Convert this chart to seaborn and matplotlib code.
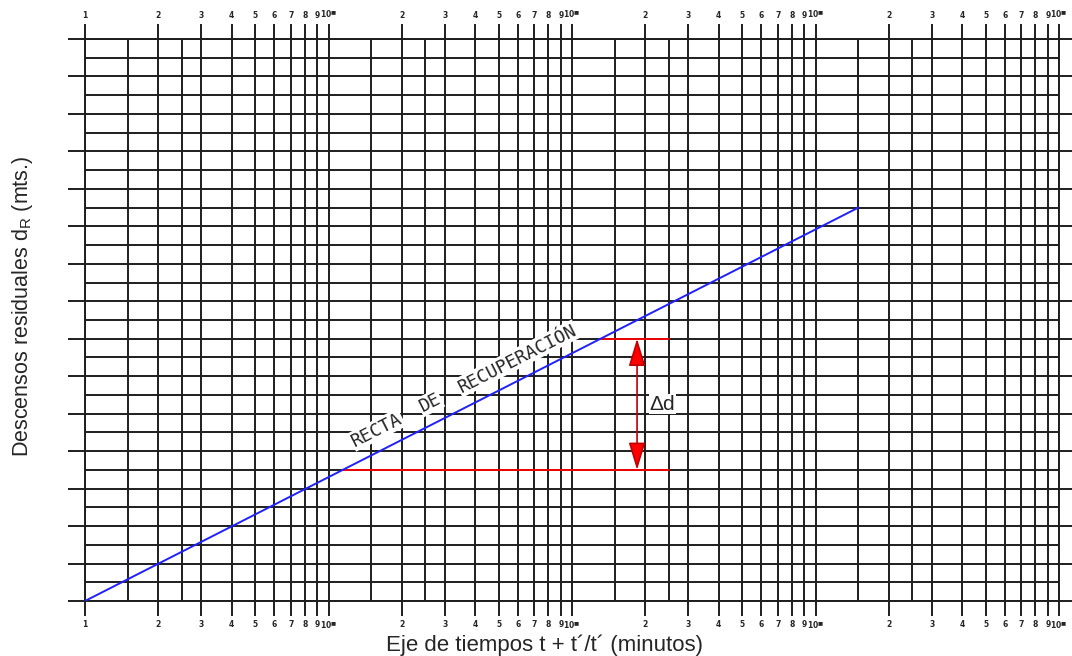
import numpy as np
import pandas as pd
import matplotlib
matplotlib.use("Agg")
import matplotlib.pyplot as plt
from matplotlib.patches import ArrowStyle
import seaborn as sns

# --- data -------------------------------------------------------------
# recovery line: residual drawdown (grid rows) vs. t + t'/t' (minutes)
line_t = [1, 1500]
line_d = [0, 21]
# levels used to read the drawdown difference over one log cycle
delta_low = 7
delta_high = 14
delta_end_t = 250
arrow_t = 185
# axis ranges
x_min, x_max = 1, 10000
y_min, y_max = 0, 30
decade_digits = [1, 2, 3, 4, 5, 6, 7, 8, 9]
minor_steps = [1.5, 2.5]

GRID = "#1e1e1e"

sns.set_style("white")
plt.rcParams["font.family"] = ["Liberation Sans", "DejaVu Sans"]

fig = plt.figure(figsize=(10.72, 6.56), dpi=100)
W, H = 1072, 656
ax = fig.add_axes([85 / W, 1 - 601 / H, (1059 - 85) / W, (601 - 39) / H])

ax.set_xscale("log")
ax.set_xlim(x_min, x_max)
ax.set_ylim(y_min, y_max)

# log paper grid
decades = [1, 10, 100, 1000]
major_x = [d * k for d in decades for k in decade_digits] + [x_max]
minor_x = [d * s for d in decades for s in minor_steps]
labels = []
for v in major_x:
    k = int(round(v / 10 ** np.floor(np.log10(v) + 1e-9)))
    if v == 1:
        labels.append("1")
    elif k == 1:
        labels.append(r"$\mathregular{10^{\blacksquare}}$")
    else:
        labels.append(str(k))
ax.set_xticks(major_x)
ax.set_xticklabels(labels)
ax.set_xticks(minor_x, minor=True)
ax.xaxis.set_minor_formatter(matplotlib.ticker.NullFormatter())

ax.set_yticks(np.arange(y_min, y_max + 1, 2))
ax.set_yticks(np.arange(y_min + 1, y_max, 2), minor=True)
ax.set_yticklabels([])

ax.grid(which="both", color=GRID, lw=1.4)
ax.set_axisbelow(True)
for s in ax.spines.values():
    s.set_color(GRID)
    s.set_linewidth(1.4)

ax.tick_params(axis="x", which="major", top=True, bottom=True, labeltop=True,
               labelbottom=True, length=11, width=1.4, color=GRID,
               labelsize=5.5, pad=2.5, direction="out")
ax.tick_params(axis="x", which="minor", length=0)
ax.tick_params(axis="y", which="major", left=True, right=True, length=12,
               width=1.4, color=GRID, direction="out")
ax.tick_params(axis="y", which="minor", length=0)
for lab in ax.xaxis.get_ticklabels(which="major"):
    lab.set_fontweight("bold")
    lab.set_family("DejaVu Sans")

# recovery line
df = pd.DataFrame({"t": line_t, "d": line_d})
sns.lineplot(data=df, x="t", y="d", color="#2020ff", lw=1.4, ax=ax, zorder=4)
ax.set_xlabel("")
ax.set_ylabel("")


def t_on_line(d):
    slope = (line_d[1] - line_d[0]) / np.log10(line_t[1] / line_t[0])
    return line_t[0] * 10 ** ((d - line_d[0]) / slope)


# drawdown difference construction
for lvl in (delta_low, delta_high):
    ax.plot([t_on_line(lvl), delta_end_t], [lvl, lvl], color="red", lw=1.3, zorder=3)
ax.annotate("", xy=(arrow_t, delta_high), xytext=(arrow_t, delta_low),
            arrowprops=dict(arrowstyle=ArrowStyle("<|-|>", head_length=0.85, head_width=0.26),
                            mutation_scale=20, facecolor="red", edgecolor="#c00000",
                            lw=1.2, shrinkA=0, shrinkB=0), zorder=5)
ax.text(208, (delta_low + delta_high) / 2, "Δd", fontsize=15, ha="left", va="center",
        bbox=dict(facecolor="white", edgecolor="none", pad=0.5), zorder=4)

# rotated caption along the line, one white box per word
fig.canvas.draw()
p0 = ax.transData.transform((line_t[0], line_d[0]))
p1 = ax.transData.transform((line_t[1], line_d[1]))
ang = np.degrees(np.arctan2(p1[1] - p0[1], p1[0] - p0[0]))
u = (p1 - p0) / np.hypot(*(p1 - p0))
center = ax.transData.transform((36, 11.5))
caption = "RECTA  DE  RECUPERACIÓN"
fs = 13
cw = 0.602 * fs * 100 / 72
pos = 0
inv = ax.transData.inverted()
for word in caption.split():
    start = caption.index(word, pos)
    pos = start + len(word)
    off = (start + len(word) / 2 - len(caption) / 2) * cw
    xy = inv.transform(center + u * off)
    ax.text(xy[0], xy[1], word, fontsize=fs, family="DejaVu Sans Mono",
            rotation=ang, rotation_mode="anchor", ha="center", va="center",
            bbox=dict(facecolor="white", edgecolor="none", pad=0.8), zorder=4)

fig.text(544 / W, 1 - 645 / H, "Eje de tiempos t + t´/t´ (minutos)", fontsize=16,
         ha="center", va="center")
fig.text(23 / W, 1 - 306 / H, r"Descensos residuales d$_\mathregular{R}$ (mts.)",
         fontsize=15.5, rotation=90, ha="center", va="center")

fig.savefig("out.png", dpi=100)
